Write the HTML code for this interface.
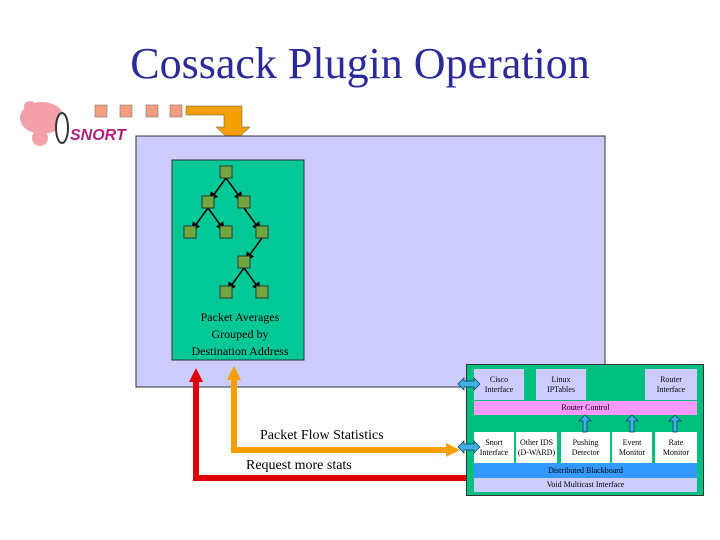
<!DOCTYPE html><html><head><style>body{margin:0;width:720px;height:540px;background:#fff;position:relative;overflow:hidden;font-family:"Liberation Serif",serif}
.a{position:absolute;box-sizing:border-box}.t{font-size:8px;text-align:center;line-height:10px;display:flex;align-items:center;justify-content:center}
</style></head><body>
<div class="a" style="left:0;top:38px;width:720px;text-align:center;font-size:44px;color:#2a2a9a">Cossack Plugin Operation</div>
<svg class="a" style="left:0;top:0" width="720" height="540">
<defs><marker id="m" markerWidth="6" markerHeight="6" refX="5" refY="3" orient="auto"><path d="M0,0L6,3L0,6z" fill="#000"/></marker></defs>
<ellipse cx="42" cy="118" rx="22" ry="16" fill="#f4a0a8"/><ellipse cx="30" cy="106" rx="6" ry="5" fill="#f4a0a8"/><ellipse cx="40" cy="138" rx="8" ry="8" fill="#f4a0a8"/>
<ellipse cx="62" cy="128" rx="6" ry="15" fill="#fff" stroke="#333" stroke-width="2"/>
<text x="70" y="140" font-family="Liberation Sans" font-weight="bold" font-style="italic" font-size="16" fill="#b0207a">SNORT</text>
<g fill="#f4a080" stroke="#666" stroke-width=".5"><rect x="95" y="105" width="12" height="12"/><rect x="120" y="105" width="12" height="12"/><rect x="146" y="105" width="12" height="12"/><rect x="170" y="105" width="12" height="12"/></g>
<polygon points="186,106 242,106 242,127 250,127 233,143 216,127 224,127 224,115 186,115" fill="#f5a000" stroke="#555" stroke-width=".5"/>
<rect x="136" y="136" width="469" height="251" fill="#ccccff" stroke="#333"/>
<rect x="172" y="160" width="132" height="200" fill="#00c896" stroke="#333"/>
<g stroke="#000" stroke-width="1.5" marker-end="url(#m)"><line x1="226" y1="178" x2="210" y2="200"/><line x1="226" y1="178" x2="242" y2="200"/><line x1="208" y1="208" x2="192" y2="230"/><line x1="208" y1="208" x2="224" y2="230"/><line x1="244" y1="208" x2="260" y2="230"/><line x1="262" y1="238" x2="246" y2="260"/><line x1="244" y1="268" x2="228" y2="290"/><line x1="244" y1="268" x2="260" y2="290"/></g>
<g fill="#70a840" stroke="#333"><rect x="220" y="166" width="12" height="12"/><rect x="202" y="196" width="12" height="12"/><rect x="238" y="196" width="12" height="12"/><rect x="184" y="226" width="12" height="12"/><rect x="220" y="226" width="12" height="12"/><rect x="256" y="226" width="12" height="12"/><rect x="238" y="256" width="12" height="12"/><rect x="220" y="286" width="12" height="12"/><rect x="256" y="286" width="12" height="12"/></g>
<text font-size="12" text-anchor="middle"><tspan x="240" y="321">Packet Averages</tspan><tspan x="240" y="338">Grouped by</tspan><tspan x="240" y="355">Destination Address</tspan></text>
<polyline points="196,380 196,478 466,478" fill="none" stroke="#e00000" stroke-width="6"/><polygon points="189,382 196,368 203,382" fill="#e00000"/>
<polyline points="234,378 234,450 448,450" fill="none" stroke="#f5a000" stroke-width="6"/><polygon points="227,380 234,366 241,380" fill="#f5a000"/><polygon points="446,443 460,450 446,457" fill="#f5a000"/>
<text font-size="14"><tspan x="260" y="439">Packet Flow Statistics</tspan><tspan x="246" y="469">Request more stats</tspan></text>
</svg>
<div class="a" style="left:466px;top:364px;width:238px;height:132px;background:#00c080;border:1px solid #333"></div>
<div class="a t" style="left:474px;top:369px;width:50px;height:31px;background:#ccccff">Cisco<br>Interface</div>
<div class="a t" style="left:536px;top:369px;width:50px;height:31px;background:#ccccff">Linux<br>IPTables</div>
<div class="a t" style="left:645px;top:369px;width:52px;height:31px;background:#ccccff">Router<br>Interface</div>
<div class="a t" style="left:474px;top:401px;width:223px;height:14px;background:#ff99ff">Router Control</div>
<div class="a t" style="left:474px;top:432px;width:40px;height:31px;background:#fff">Snort<br>Interface</div>
<div class="a t" style="left:516px;top:432px;width:41px;height:31px;background:#fff">Other IDS<br>(D-WARD)</div>
<div class="a t" style="left:561px;top:432px;width:49px;height:31px;background:#fff">Pushing<br>Detector</div>
<div class="a t" style="left:612px;top:432px;width:40px;height:31px;background:#fff">Event<br>Monitor</div>
<div class="a t" style="left:655px;top:432px;width:42px;height:31px;background:#fff">Rate<br>Monitor</div>
<div class="a t" style="left:474px;top:463px;width:223px;height:15px;background:#3399ff">Distributed Blackboard</div>
<div class="a t" style="left:474px;top:478px;width:223px;height:14px;background:#ccccff">Void Multicast Interface</div>
<svg class="a" style="left:0;top:0" width="720" height="540">
<g fill="#40b0e0" stroke="#036" stroke-width=".7"><polygon points="458,384 464,378 464,381 474,381 474,378 480,384 474,390 474,387 464,387 464,390"/><polygon points="458,447 464,441 464,444 474,444 474,441 480,447 474,453 474,450 464,450 464,453"/>
<polygon points="583,432 583,421 579,421 585,415 591,421 587,421 587,432"/><polygon points="630,432 630,421 626,421 632,415 638,421 634,421 634,432"/><polygon points="673,432 673,421 669,421 675,415 681,421 677,421 677,432"/></g>
</svg>
</body></html>
